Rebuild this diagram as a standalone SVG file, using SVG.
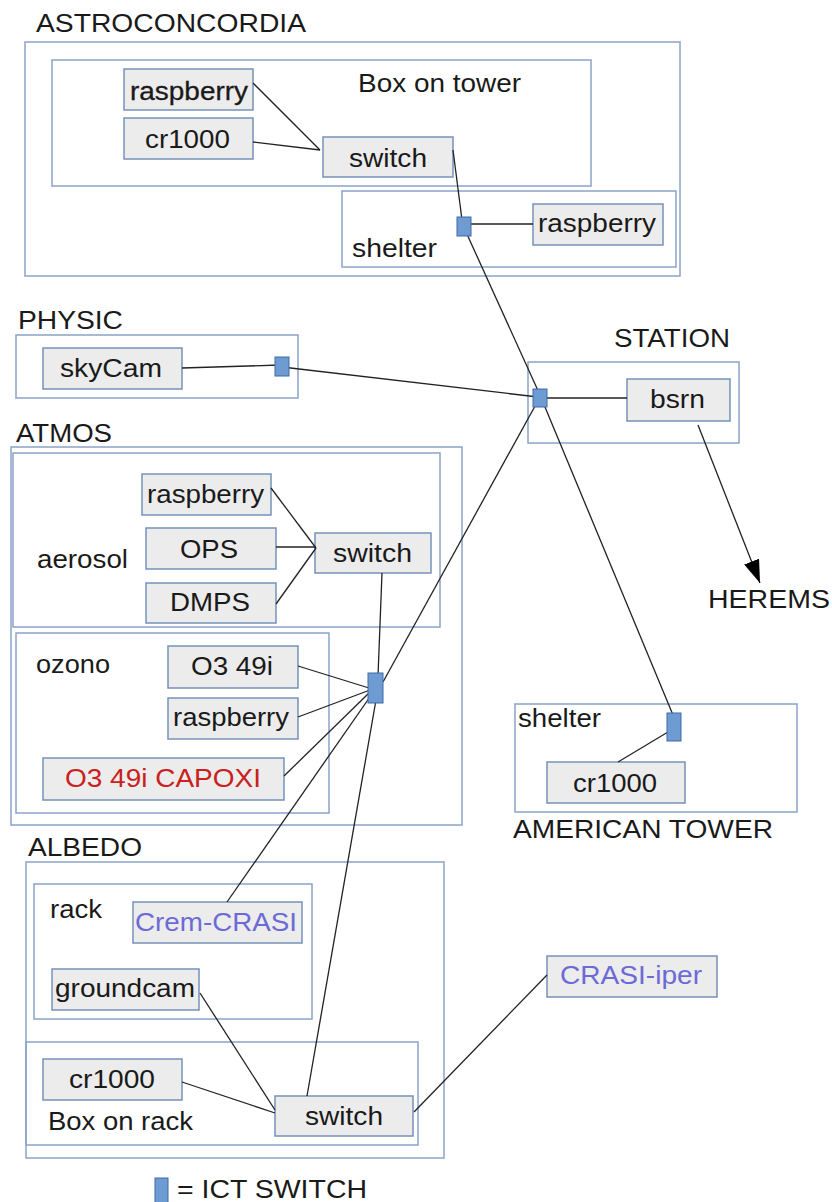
<svg xmlns="http://www.w3.org/2000/svg" width="832" height="1202" viewBox="0 0 832 1202">
<style>
.grp{fill:none;stroke:#8ba3c6;stroke-width:1.5}
.nd{fill:#ececec;stroke:#7791ba;stroke-width:1.5}
.ict{fill:#6f9bd3;stroke:#3f6aa8;stroke-width:1}
.t{font-family:"Liberation Sans",Arial,sans-serif;font-size:25px;fill:#1a1a1a}
.red{fill:#c9211e}
.blu{fill:#6b6ad6}
.ln{stroke:#222;stroke-width:1.3;fill:none}
</style>
<defs>
<marker id="ah" markerWidth="24" markerHeight="16" refX="23" refY="8" orient="auto" markerUnits="userSpaceOnUse" viewBox="0 0 24 16">
<path d="M0,0 L23,8 L0,16 Z" fill="#000"/>
</marker>
</defs>
<rect width="832" height="1202" fill="#fff"/>

<g id="astroconcordia">
<text class="t" x="36" y="32" textLength="270" lengthAdjust="spacingAndGlyphs">ASTROCONCORDIA</text>
<rect class="grp" x="25" y="42" width="655" height="234"/>
</g>
<g id="box-on-tower">
<rect class="grp" x="52" y="60" width="539" height="126"/>
<text class="t" x="358" y="92" textLength="163" lengthAdjust="spacingAndGlyphs">Box on tower</text>
</g>
<g id="astro-raspberry">
<rect class="nd" x="124" y="69" width="129" height="41"/>
<text class="t" x="130" y="100" textLength="118" lengthAdjust="spacingAndGlyphs" style="stroke:#1a1a1a;stroke-width:0.3">raspberry</text>
</g>
<g id="astro-cr1000">
<rect class="nd" x="124" y="118" width="129" height="41"/>
<text class="t" x="145" y="148" textLength="85" lengthAdjust="spacingAndGlyphs">cr1000</text>
</g>
<g id="astro-switch">
<rect class="nd" x="323" y="137" width="130" height="40"/>
<text class="t" x="349" y="167" textLength="78" lengthAdjust="spacingAndGlyphs">switch</text>
</g>
<g id="astro-shelter">
<rect class="grp" x="342" y="191" width="334" height="76"/>
<text class="t" x="352" y="257" textLength="85" lengthAdjust="spacingAndGlyphs">shelter</text>
</g>
<g id="shelter-raspberry">
<rect class="nd" x="533" y="204" width="130" height="41"/>
<text class="t" x="538" y="232" textLength="118" lengthAdjust="spacingAndGlyphs">raspberry</text>
</g>

<g id="physic">
<text class="t" x="18" y="329" textLength="105" lengthAdjust="spacingAndGlyphs">PHYSIC</text>
<rect class="grp" x="16" y="335" width="282" height="63"/>
</g>
<g id="skycam">
<rect class="nd" x="43" y="348" width="139" height="41"/>
<text class="t" x="60" y="377" textLength="102" lengthAdjust="spacingAndGlyphs">skyCam</text>
</g>

<g id="station">
<text class="t" x="614" y="347" textLength="116" lengthAdjust="spacingAndGlyphs">STATION</text>
<rect class="grp" x="528" y="362" width="211" height="81"/>
</g>
<g id="bsrn">
<rect class="nd" x="627" y="379" width="103" height="42"/>
<text class="t" x="650" y="408" textLength="55" lengthAdjust="spacingAndGlyphs">bsrn</text>
</g>
<g id="herems">
<text class="t" x="708" y="608" textLength="122" lengthAdjust="spacingAndGlyphs">HEREMS</text>
</g>

<g id="atmos">
<text class="t" x="16" y="442" textLength="96" lengthAdjust="spacingAndGlyphs">ATMOS</text>
<rect class="grp" x="11" y="447" width="451" height="378"/>
</g>
<g id="aerosol">
<rect class="grp" x="13" y="453" width="427" height="174"/>
<text class="t" x="37" y="568" textLength="91" lengthAdjust="spacingAndGlyphs">aerosol</text>
</g>
<g id="aerosol-raspberry">
<rect class="nd" x="142" y="474" width="129" height="41"/>
<text class="t" x="147" y="503" textLength="117" lengthAdjust="spacingAndGlyphs">raspberry</text>
</g>
<g id="ops">
<rect class="nd" x="146" y="528" width="130" height="41"/>
<text class="t" x="180" y="558" textLength="58" lengthAdjust="spacingAndGlyphs">OPS</text>
</g>
<g id="dmps">
<rect class="nd" x="146" y="583" width="130" height="40"/>
<text class="t" x="170" y="611" textLength="80" lengthAdjust="spacingAndGlyphs">DMPS</text>
</g>
<g id="aerosol-switch">
<rect class="nd" x="315" y="533" width="116" height="40"/>
<text class="t" x="333" y="562" textLength="79" lengthAdjust="spacingAndGlyphs">switch</text>
</g>
<g id="ozono">
<rect class="grp" x="16" y="633" width="313" height="180"/>
<text class="t" x="36" y="673" textLength="74" lengthAdjust="spacingAndGlyphs">ozono</text>
</g>
<g id="o3-49i">
<rect class="nd" x="168" y="646" width="130" height="42"/>
<text class="t" x="191" y="675" textLength="82" lengthAdjust="spacingAndGlyphs">O3 49i</text>
</g>
<g id="ozono-raspberry">
<rect class="nd" x="168" y="698" width="130" height="41"/>
<text class="t" x="173" y="726" textLength="116" lengthAdjust="spacingAndGlyphs">raspberry</text>
</g>
<g id="o3-capoxi">
<rect class="nd" x="43" y="758" width="241" height="42"/>
<text class="t red" x="65" y="787" textLength="196" lengthAdjust="spacingAndGlyphs">O3 49i CAPOXI</text>
</g>

<g id="american-tower">
<rect class="grp" x="515" y="704" width="282" height="108"/>
<text class="t" x="518" y="727" textLength="83" lengthAdjust="spacingAndGlyphs">shelter</text>
<text class="t" x="513" y="838" textLength="260" lengthAdjust="spacingAndGlyphs">AMERICAN TOWER</text>
</g>
<g id="at-cr1000">
<rect class="nd" x="547" y="762" width="138" height="41"/>
<text class="t" x="573" y="792" textLength="84" lengthAdjust="spacingAndGlyphs">cr1000</text>
</g>

<g id="albedo">
<text class="t" x="28" y="856" textLength="114" lengthAdjust="spacingAndGlyphs">ALBEDO</text>
<rect class="grp" x="26" y="862" width="418" height="296"/>
</g>
<g id="rack">
<rect class="grp" x="34" y="884" width="278" height="135"/>
<text class="t" x="50" y="918" textLength="52" lengthAdjust="spacingAndGlyphs">rack</text>
</g>
<g id="crem-crasi">
<rect class="nd" x="133" y="902" width="169" height="41"/>
<text class="t blu" x="135" y="931" textLength="162" lengthAdjust="spacingAndGlyphs">Crem-CRASI</text>
</g>
<g id="groundcam">
<rect class="nd" x="52" y="969" width="147" height="41"/>
<text class="t" x="55" y="997" textLength="140" lengthAdjust="spacingAndGlyphs">groundcam</text>
</g>
<g id="box-on-rack">
<rect class="grp" x="26" y="1042" width="392" height="103"/>
<text class="t" x="48" y="1130" textLength="145" lengthAdjust="spacingAndGlyphs">Box on rack</text>
</g>
<g id="rack-cr1000">
<rect class="nd" x="43" y="1059" width="139" height="41"/>
<text class="t" x="69" y="1088" textLength="86" lengthAdjust="spacingAndGlyphs">cr1000</text>
</g>
<g id="rack-switch">
<rect class="nd" x="275" y="1096" width="138" height="40"/>
<text class="t" x="305" y="1125" textLength="78" lengthAdjust="spacingAndGlyphs">switch</text>
</g>
<g id="crasi-iper">
<rect class="nd" x="547" y="956" width="170" height="41"/>
<text class="t blu" x="560" y="984" textLength="142" lengthAdjust="spacingAndGlyphs">CRASI-iper</text>
</g>

<g id="connectors">
<line class="ln" x1="253" y1="83" x2="320" y2="150"/>
<line class="ln" x1="253" y1="142" x2="320" y2="150"/>
<line class="ln" x1="453" y1="150" x2="462" y2="220"/>
<line class="ln" x1="471" y1="224" x2="533" y2="224"/>
<line class="ln" x1="466" y1="232" x2="540" y2="395"/>
<line class="ln" x1="540" y1="395" x2="673" y2="715"/>
<line class="ln" x1="182" y1="368" x2="280" y2="365"/>
<line class="ln" x1="282" y1="367" x2="538" y2="397"/>
<line class="ln" x1="544" y1="398" x2="627" y2="398"/>
<line class="ln" x1="698" y1="425" x2="760" y2="583" marker-end="url(#ah)"/>
<line class="ln" x1="271" y1="488" x2="316" y2="548"/>
<line class="ln" x1="276" y1="547" x2="316" y2="547"/>
<line class="ln" x1="276" y1="604" x2="316" y2="548"/>
<line class="ln" x1="382" y1="573" x2="378" y2="676"/>
<line class="ln" x1="383" y1="682" x2="540" y2="397"/>
<line class="ln" x1="298" y1="666" x2="369" y2="688"/>
<line class="ln" x1="298" y1="717" x2="370" y2="690"/>
<line class="ln" x1="284" y1="776" x2="370" y2="692"/>
<line class="ln" x1="372" y1="694" x2="227" y2="902"/>
<line class="ln" x1="376" y1="700" x2="307" y2="1096"/>
<line class="ln" x1="668" y1="732" x2="618" y2="762"/>
<line class="ln" x1="182" y1="1082" x2="275" y2="1113"/>
<line class="ln" x1="200" y1="993" x2="275" y2="1110"/>
<line class="ln" x1="414" y1="1112" x2="547" y2="975"/>
</g>

<g id="ict-switches">
<rect class="ict" x="457" y="217" width="14" height="19"/>
<rect class="ict" x="275" y="357" width="14" height="19"/>
<rect class="ict" x="533" y="389" width="14" height="18"/>
<rect class="ict" x="368" y="673" width="15" height="30"/>
<rect class="ict" x="667" y="713" width="14" height="28"/>
</g>

<g id="legend">
<rect class="ict" x="155" y="1178" width="13" height="26"/>
<text class="t" x="177" y="1198" textLength="190" lengthAdjust="spacingAndGlyphs">= ICT SWITCH</text>
</g>
</svg>
